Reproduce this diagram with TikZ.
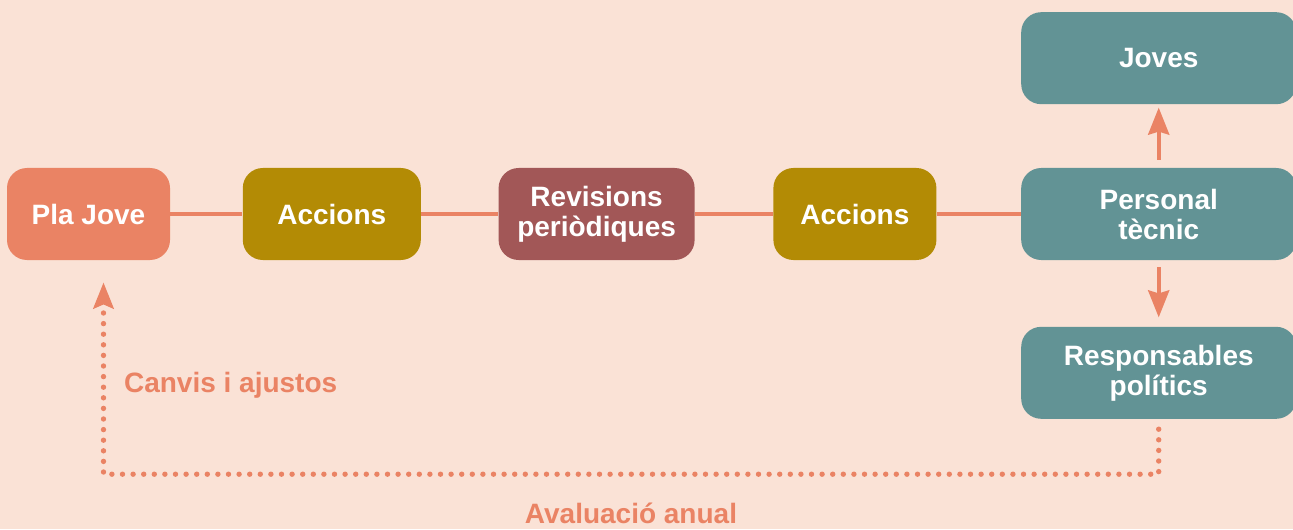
\documentclass[tikz,border=0pt]{standalone}
\usepackage{fontspec}
\setmainfont{Liberation Sans}
\usepackage{xcolor}
\usetikzlibrary{arrows.meta,positioning}
\definecolor{PeachBg}{HTML}{FAE2D6}
\definecolor{Salmon}{HTML}{EA8364}
\definecolor{Olive}{HTML}{B38B05}
\definecolor{Maroon}{HTML}{A25757}
\definecolor{Teal}{HTML}{629395}
\tikzset{
  basebox/.style={rounded corners=10pt, text=white, align=center, minimum height=46pt, inner sep=0pt, font=\bfseries\fontsize{14}{15}\selectfont},
  salmonbox/.style={basebox, fill=Salmon},
  olivebox/.style={basebox, fill=Olive},
  maroonbox/.style={basebox, fill=Maroon},
  tealbox/.style={basebox, fill=Teal, minimum width=137.5pt},
  link/.style={line width=2pt, draw=Salmon},
  arrow/.style={-{Stealth[length=13.5pt, width=10.5pt, inset=1.5pt]}, line width=2pt, draw=Salmon},
  loopback/.style={-{Stealth[length=13pt, width=10pt, inset=2pt]}, line width=2.7pt, draw=Salmon, line cap=round, dash pattern=on 0pt off 5.3pt},
  note/.style={text=Salmon, font=\bfseries\fontsize{14}{15}\selectfont}
}
\begin{document}
\begin{tikzpicture}[x=0.5pt, y=-0.5pt]
    \useasboundingbox (0,0) rectangle (1293,529);
    \fill[PeachBg] (0,0) rectangle (1293,529);

    \node[salmonbox, minimum width=81.5pt] (pla) at (88.5,214) {Pla Jove};
    \node[olivebox, minimum width=89pt, right=36pt of pla] (acc1) {Accions};
    \node[maroonbox, minimum width=98pt, right=38.5pt of acc1] (rev) {Revisions\\periòdiques};
    \node[olivebox, minimum width=81.5pt, right=39pt of rev] (acc2) {Accions};
    \node[tealbox, right=42pt of acc2] (tec) {Personal\\tècnic};
    \node[tealbox, above=31.5pt of tec] (joves) {Joves};
    \node[tealbox, below=33pt of tec] (resp) {Responsables\\polítics};

    \coordinate (back) at ([xshift=7.5pt]pla.south);
    \coordinate (turn) at ([yshift=-27.5pt]resp.south);

    \node[note, anchor=west] (canvis) at (117,385) {Canvis i ajustos};
    \node[note] (aval) at (631,513) {Avaluació anual};

    \draw[link] (pla) -- (acc1);
    \draw[link] (acc1) -- (rev);
    \draw[link] (rev) -- (acc2);
    \draw[link] (acc2) -- (tec);
    \draw[arrow, shorten <=4pt, shorten >=1.5pt] (tec) -- (joves);
    \draw[arrow, shorten <=3.5pt, shorten >=4.5pt] (tec) -- (resp);
    \draw[loopback, shorten <=5pt, shorten >=11pt] (resp.south) -- (turn) -| (back);
\end{tikzpicture}
\end{document}
